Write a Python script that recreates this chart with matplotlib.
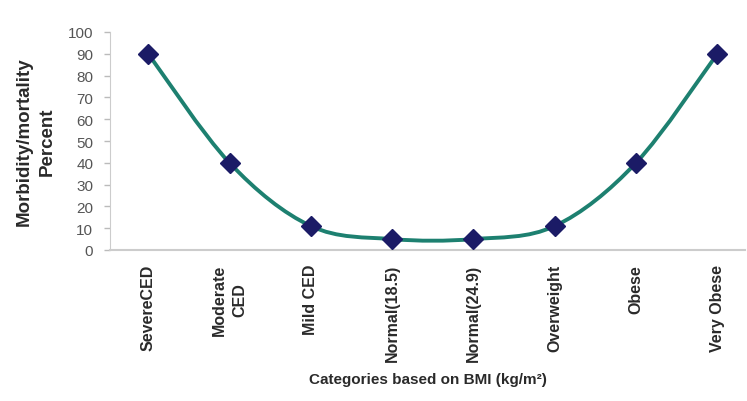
import numpy as np
import matplotlib
matplotlib.use("Agg")
import matplotlib.pyplot as plt
from matplotlib.path import Path
from matplotlib.patches import PathPatch

plt.rcParams['font.family'] = ['Liberation Sans', 'DejaVu Sans']

categories = ["SevereCED", "Moderate\nCED", "Mild CED", "Normal(18.5)", "Normal(24.9)",
              "Overweight", "Obese", "Very Obese"]
values = [90, 40, 11, 5, 5, 11, 40, 90]
yticks = list(range(0, 101, 10))

fig = plt.figure(figsize=(7.47, 4.02), dpi=100)
ax = fig.add_axes([110/747, 1 - 251/402, (745-110)/747, (251-33)/402])

x = np.arange(len(values), dtype=float)
y = np.array(values, dtype=float)

# smoothed line (Catmull-Rom style Bezier, like Excel's smoothed line)
verts = [(x[0], y[0])]
codes = [Path.MOVETO]
n = len(x)
for i in range(n - 1):
    p0 = np.array([x[max(i-1, 0)], y[max(i-1, 0)]])
    p1 = np.array([x[i], y[i]])
    p2 = np.array([x[i+1], y[i+1]])
    p3 = np.array([x[min(i+2, n-1)], y[min(i+2, n-1)]])
    c1 = p1 + (p2 - p0) / 6.0
    c2 = p2 - (p3 - p1) / 6.0
    verts += [tuple(c1), tuple(c2), tuple(p2)]
    codes += [Path.CURVE4] * 3
ax.add_patch(PathPatch(Path(verts, codes), facecolor='none', edgecolor='#1d8070',
                       lw=2.8, zorder=2))
ax.plot(x, y, linestyle='none', marker='D', markersize=10, color='#1b1b66', zorder=3)

ax.set_xlim(-0.47, 7.34)
ax.set_ylim(0, 100)
ax.set_yticks(yticks)
ax.set_yticklabels([str(v) for v in yticks], fontsize=11, color='#555555')
ax.set_xticks(x)
ax.set_xticklabels(categories, rotation=90, fontsize=11.5, fontweight='bold',
                   color='#2a2a2a', va='top', ha='center', linespacing=1.45)
ax.tick_params(axis='x', length=0, pad=10)
ax.tick_params(axis='y', length=4, color='#bbbbbb', width=1, pad=8)

for s in ['top', 'right']:
    ax.spines[s].set_visible(False)
ax.spines['left'].set_color('#cccccc')
ax.spines['bottom'].set_color('#cccccc')
ax.spines['bottom'].set_linewidth(1.5)

ax.set_ylabel("Morbidity/mortality\nPercent", fontsize=13.5, fontweight='bold',
              color='#2a2a2a', linespacing=1.4)
ax.yaxis.set_label_coords(-0.086, 0.5)
ax.set_xlabel("Categories based on BMI (kg/m²)", fontsize=11, fontweight='bold',
              color='#2a2a2a')
ax.xaxis.set_label_coords(0.5, -0.56)

fig.savefig("out.png", dpi=100)
